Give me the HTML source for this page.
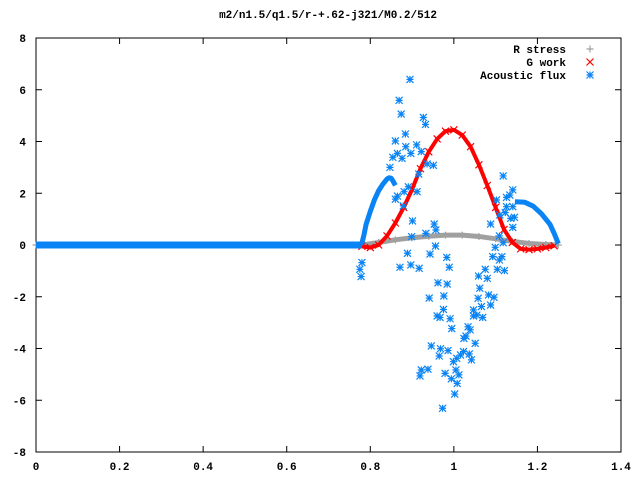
<!DOCTYPE html>
<html><head><meta charset="utf-8"><style>
body{margin:0;background:#fff}
svg{display:block;font-family:"Liberation Mono",monospace;font-size:11px;font-weight:bold}
</style></head><body>
<svg id="chart" width="640" height="480" viewBox="0 0 640 480">
<text x="328" y="18" text-anchor="middle">m2/n1.5/q1.5/r-+.62-j321/M0.2/512</text>
<g id="axes"></g>
<g id="series"></g>
<g id="legend"></g>
</svg>
<script>
const xTicks=[0,0.2,0.4,0.6,0.8,1,1.2,1.4];
const xTickLabels=["0","0.2","0.4","0.6","0.8","1","1.2","1.4"];
const yTicks=[8,6,4,2,0,-2,-4,-6,-8];
const yTickLabels=["8","6","4","2","0","-2","-4","-6","-8"];
const rStressX=[0,0.78,0.82,0.86,0.90,0.94,0.98,1.02,1.06,1.10,1.14,1.18,1.22,1.25];
const rStressY=[0,0,0.1,0.2,0.28,0.34,0.38,0.38,0.33,0.24,0.14,0.06,0.02,0];
const gWorkX=[0.78,0.80,0.82,0.84,0.86,0.88,0.90,0.92,0.94,0.96,0.98,1.00,1.02,1.04,1.06,1.08,1.10,1.12,1.14,1.16,1.18,1.20,1.22,1.24];
const gWorkY=[-0.05,-0.1,0.0,0.35,0.85,1.45,2.15,2.95,3.6,4.1,4.4,4.45,4.25,3.8,3.1,2.3,1.45,0.6,0.1,-0.15,-0.18,-0.15,-0.1,-0.03];
const fluxLineX=[0,0.78];
const fluxLineY=[0,0];
const fluxLeftArcX=[0.779,0.785,0.79,0.80,0.81,0.82,0.83,0.84,0.845,0.85,0.855,0.86];
const fluxLeftArcY=[0,0.4,0.8,1.3,1.75,2.1,2.35,2.55,2.6,2.58,2.45,2.3];
const fluxRightArcX=[1.146,1.16,1.17,1.19,1.21,1.23,1.24,1.25];
const fluxRightArcY=[1.67,1.66,1.65,1.5,1.2,0.8,0.45,0.05];
const fluxScatterX=[0.895,0.869,0.874,0.927,0.932,0.884,0.860,0.911,0.885,0.865,0.854,0.876,0.897,0.922,0.936,0.951,0.847,0.916,0.891,0.881,0.865,0.860,0.879,0.901,0.953,0.957,0.933,0.899,0.956,0.889,0.943,0.983,0.871,0.897,0.917,0.989,0.780,0.775,0.778,0.962,0.984,0.941,0.976,0.975,0.960,0.967,0.991,0.995,0.946,0.968,0.986,0.965,0.922,0.938,0.919,0.979,0.994,1.008,1.002,0.973,0.999,1.007,1.016,1.023,1.037,1.042,1.005,1.012,1.051,1.029,1.024,1.034,1.039,1.047,1.055,1.069,1.066,1.047,1.088,1.083,1.096,1.058,1.062,1.059,1.075,1.080,1.104,1.121,1.093,1.115,1.109,1.099,1.118,1.109,1.088,1.110,1.141,1.123,1.136,1.145,1.126,1.141,1.134,1.118,1.102,1.126,1.141,0.912];
const fluxScatterY=[6.40,5.59,5.06,4.93,4.66,4.29,4.02,3.87,3.80,3.54,3.39,3.35,3.54,3.61,3.13,3.08,3.00,2.74,2.25,2.06,1.89,1.77,1.51,0.93,0.81,0.58,0.45,0.32,-0.04,-0.32,-0.35,-0.48,-0.86,-0.77,-0.90,-0.86,-0.68,-0.94,-1.22,-1.46,-1.51,-2.05,-1.97,-2.49,-2.74,-2.80,-2.85,-3.23,-3.90,-4.01,-4.08,-4.29,-4.83,-4.80,-5.06,-4.96,-5.17,-5.35,-5.76,-6.31,-4.51,-4.38,-4.25,-4.12,-4.21,-4.44,-4.83,-5.02,-3.80,-3.52,-3.61,-3.16,-3.28,-2.74,-2.71,-2.80,-2.38,-2.51,-2.32,-1.93,-2.02,-2.06,-1.67,-1.20,-0.94,-1.29,-0.94,-0.99,-0.45,-0.45,-0.58,-0.09,0.09,0.35,0.81,1.16,0.68,1.25,1.03,1.07,1.84,2.13,1.93,2.67,1.74,1.48,1.48,2.06];

const L=36,R=621,T=38,B=452;
const sx=v=>L+(v-0)/(1.4-0)*(R-L);
const sy=v=>B-(v+8)/16*(B-T);
const NS="http://www.w3.org/2000/svg";
function mk(tag,parent,attrs){const e=document.createElementNS(NS,tag);for(const k in attrs)e.setAttribute(k,attrs[k]);parent.appendChild(e);return e;}
const axes=document.getElementById('axes');
const frame=mk('rect',axes,{x:L,y:T,width:R-L,height:B-T,fill:'none',stroke:'#000','stroke-width':1});


xTicks.forEach((v,i)=>{
  const x=sx(v);
  const t=mk('path',axes,{d:`M${x},${B}v-6M${x},${T}v6`,stroke:'#000'});
  
  
  const lb=mk('text',axes,{x:x,y:B+18,'text-anchor':'middle'});lb.textContent=xTickLabels[i];
  
  
});
yTicks.forEach((v,i)=>{
  const y=sy(v);
  const t=mk('path',axes,{d:`M${L},${y}h6M${R},${y}h-6`,stroke:'#000'});
  
  
  const lb=mk('text',axes,{x:L-10,y:y+4,'text-anchor':'end'});lb.textContent=yTickLabels[i];
  
  
});
const S=document.getElementById('series');
function band(xs,ys,color,w,name){
  const d=xs.map((x,i)=>(i?'L':'M')+sx(x)+','+sy(ys[i])).join('');
  const p=mk('path',S,{d:d,fill:'none',stroke:color,'stroke-width':w,'stroke-linejoin':'round'});
  
  
}
function marker(g,x,y,type,color){
  const s=3.5;let d='';
  if(type!=='x')d+=`M${x-s},${y}h${2*s}M${x},${y-s}v${2*s}`;
  if(type!=='+')d+=`M${x-s},${y-s}l${2*s},${2*s}M${x-s},${y+s}l${2*s},${-2*s}`;
  mk('path',g,{d:d,stroke:color,'stroke-width':1.2,fill:'none'});
}
const gR=mk('g',S,{});
band(rStressX,rStressY,'#a0a0a0',5,'r-stress-band');
rStressX.forEach((x,i)=>marker(gR,sx(x),sy(rStressY[i]),'+','#a0a0a0'));
const gG=mk('g',S,{});
band(gWorkX,gWorkY,'#ff0000',4,'g-work-band');
gWorkX.forEach((x,i)=>marker(gG,sx(x),sy(gWorkY[i]),'x','#ff0000'));
const blue='#0a84f5';
band(fluxLineX,fluxLineY,blue,7,'acoustic-flux-zero-band');
band(fluxLeftArcX,fluxLeftArcY,blue,5,'acoustic-flux-left-arc');
band(fluxRightArcX,fluxRightArcY,blue,5,'acoustic-flux-right-arc');
const gF=mk('g',S,{});
fluxScatterX.forEach((x,i)=>marker(gF,sx(x),sy(fluxScatterY[i]),'*',blue));
const lg=document.getElementById('legend');
const entries=[["R stress",'+','#a0a0a0'],["G work",'x','#ff0000'],["Acoustic flux",'*',blue]];
entries.forEach((e,i)=>{
  const y=49+i*13;
  const t=mk('text',lg,{x:566,y:y+4,'text-anchor':'end'});t.textContent=e[0];
  
  
  marker(lg,590,y,e[1],e[2]);
});
</script>
</body></html>
